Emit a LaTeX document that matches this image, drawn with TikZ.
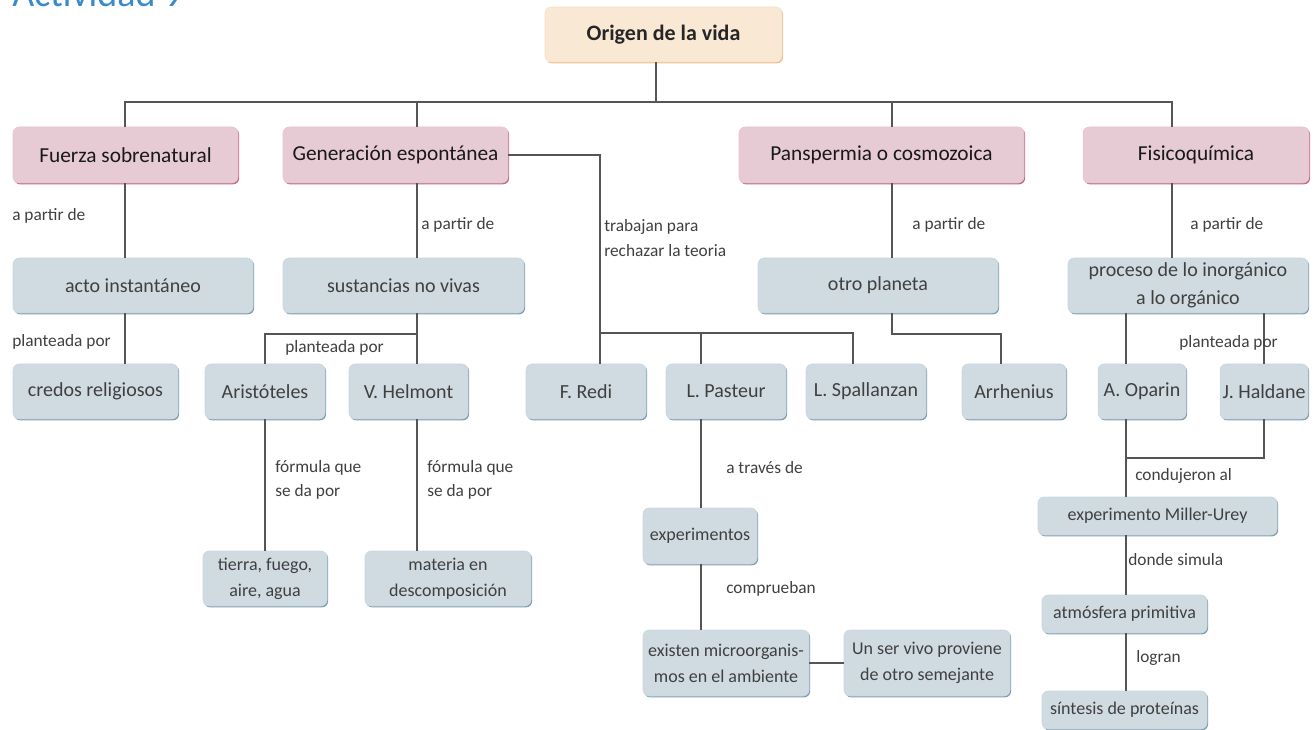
\documentclass[tikz,border=0pt]{standalone}
\usepackage{fontspec}
\setmainfont{Carlito}
\usetikzlibrary{shadows}

\definecolor{pinkfill}{HTML}{E6CAD4}
\definecolor{pinkedge}{HTML}{C0668A}
\definecolor{bluefill}{HTML}{CFDAE1}
\definecolor{blueedge}{HTML}{7C9EAE}
\definecolor{peachfill}{HTML}{F9E8D3}
\definecolor{peachedge}{HTML}{EDC08E}
\definecolor{linegray}{HTML}{555555}
\definecolor{titleblue}{HTML}{3A8AC9}

\begin{document}
\begin{tikzpicture}[x=0.75pt, y=-0.75pt,
  sz/.style 2 args={minimum width=#1*0.75pt, minimum height=#2*0.75pt},
  box/.style={rounded corners=4.5pt, inner sep=1pt, align=center},
  topbox/.style={box, fill=peachfill, draw=peachedge!50,
    drop shadow={shadow xshift=0.8pt, shadow yshift=-1pt, fill=peachedge, opacity=1},
    font=\fontsize{16.5}{19}\selectfont\bfseries, text=black!85},
  pinkbox/.style={box, fill=pinkfill, draw=pinkedge!40,
    drop shadow={shadow xshift=0.8pt, shadow yshift=-1pt, fill=pinkedge, opacity=1},
    font=\fontsize{16}{19}\selectfont, text=black!90},
  bluebox/.style={box, fill=bluefill, draw=blueedge!40,
    drop shadow={shadow xshift=0.8pt, shadow yshift=-1pt, fill=blueedge, opacity=1},
    font=\fontsize{15}{21}\selectfont, text=black!75},
  smallbox/.style={bluebox, font=\fontsize{13.5}{19.5}\selectfont},
  lbl/.style={anchor=west, inner sep=0pt, align=left,
    font=\fontsize{13}{18.5}\selectfont, text=black!75},
  conn/.style={draw=linegray, line width=1.5pt}
]

% Frame of the page
\useasboundingbox (0,0) rectangle (1316,730);

% Heading, cut at the top
\node[anchor=base west, inner sep=0pt, text=titleblue,
  font=\fontsize{28.5}{30}\selectfont] (act) at (12,7) {Actividad 9};

% Root
\node[topbox, sz={237}{55}] (origen) at (663.5,34.5) {Origen de la vida};

% Theories
\node[pinkbox, sz={225}{56}] (fuerza) at (125.5,155) {Fuerza sobrenatural};
\node[pinkbox, sz={225}{56}] (gen) at (395.5,155) {Generación espontánea};
\node[pinkbox, sz={285}{56}] (pans) at (881.5,155) {Panspermia o cosmozoica};
\node[pinkbox, sz={226}{56}] (fisico) at (1196,155) {Fisicoquímica};

% Second row
\node[bluebox, sz={240}{55}] (acto) at (133,285.5) {acto instantáneo};
\node[bluebox, sz={241}{55}] (sust) at (403.5,285.5) {sustancias no vivas};
\node[bluebox, sz={240}{55}] (planeta) at (878,285.5) {otro planeta};
\node[bluebox, sz={240}{55}] (proceso) at (1188,285.5) {proceso de lo inorgánico\\a lo orgánico};

% Third row
\node[bluebox, sz={165}{55}] (credos) at (95.5,391.5) {credos religiosos};
\node[bluebox, sz={120}{55}] (arist) at (265,391.5) {Aristóteles};
\node[bluebox, sz={119}{55}] (helm) at (408.5,391.5) {V. Helmont};
\node[bluebox, sz={120}{55}] (redi) at (586,391.5) {F. Redi};
\node[bluebox, sz={120}{55}] (pasteur) at (726,391.5) {L. Pasteur};
\node[bluebox, sz={120}{55}] (spall) at (866,391.5) {L. Spallanzan};
\node[bluebox, sz={104}{55}] (arrh) at (1014,391.5) {Arrhenius};
\node[bluebox, sz={88}{55}] (oparin) at (1142,391.5) {A. Oparin};
\node[bluebox, sz={88}{55}] (haldane) at (1264,391.5) {J. Haldane};

% Lower boxes
\node[smallbox, sz={124}{55}] (tierra) at (265,578.5) {tierra, fuego,\\aire, agua};
\node[smallbox, sz={166}{55}] (materia) at (448,578.5) {materia en\\descomposición};
\node[smallbox, sz={114}{56}] (exper) at (700,536) {experimentos};
\node[smallbox, sz={166}{66}] (existen) at (726,663) {existen microorganis-\\mos en el ambiente};
\node[smallbox, sz={166}{66}] (servivo) at (927,663) {Un ser vivo proviene\\de otro semejante};
\node[smallbox, sz={239}{38}] (miller) at (1157.5,516) {experimento Miller-Urey};
\node[smallbox, sz={165}{38}] (atmos) at (1124.5,614) {atmósfera primitiva};
\node[smallbox, sz={165}{38}] (sintesis) at (1124.5,710) {síntesis de proteínas};

% Joints of the connectors
\coordinate (top) at (656,102);
\coordinate (b1) at (125,102);
\coordinate (b2) at (417,102);
\coordinate (b3) at (892,102);
\coordinate (b4) at (1172,102);
\coordinate (j1) at (417,334);
\coordinate (j2) at (600,333);
\coordinate (j3) at (853,333);
\coordinate (pl) at (701,333);
\coordinate (j4) at (1001,334);
\coordinate (ox) at (1126,458);

% Root to theories
\draw[conn] (origen.south -| top) -- (top);
\draw[conn] (b1 |- fuerza.north) -- (b1) -- (b4) -- (b4 |- fisico.north);
\draw[conn] (b2) -- (b2 |- gen.north);
\draw[conn] (b3) -- (b3 |- pans.north);

% Fuerza sobrenatural
\draw[conn] (fuerza.south -| b1) -- (acto.north -| b1);
\draw[conn] (acto.south -| b1) -- (credos.north -| b1);

% Generacion espontanea
\draw[conn] (gen.south -| b2) -- (sust.north -| b2);
\draw[conn] (sust.south -| b2) -- (helm.north -| b2);
\draw[conn] (j1) -| (arist.north);
\draw[conn] (arist.south) -- (tierra.north);
\draw[conn] (helm.south -| b2) -- (materia.north -| b2);
\draw[conn] (gen.east) -| (j2) -- (redi.north -| j2);
\draw[conn] (j2) -- (j3) -- (spall.north -| j3);
\draw[conn] (pl) -- (pasteur.north -| pl);
\draw[conn] (pasteur.south -| pl) -- (exper.north -| pl);
\draw[conn] (exper.south -| pl) -- (existen.north -| pl);
\draw[conn] (existen.east) -- (servivo.west);

% Panspermia
\draw[conn] (pans.south -| b3) -- (planeta.north -| b3);
\draw[conn] (planeta.south -| b3) |- (j4) -- (arrh.north -| j4);

% Fisicoquimica
\draw[conn] (fisico.south -| b4) -- (proceso.north -| b4);
\draw[conn] (proceso.south -| ox) -- (oparin.north -| ox);
\draw[conn] (proceso.south -| haldane) -- (haldane.north);
\draw[conn] (oparin.south -| ox) -- (miller.north -| ox);
\draw[conn] (haldane.south) |- (ox);
\draw[conn] (miller.south -| ox) -- (atmos.north -| ox);
\draw[conn] (atmos.south -| ox) -- (sintesis.north -| ox);

% Link words
\node[lbl] (l1) at (12,216) {a partir de};
\node[lbl] (l2) at (421,225) {a partir de};
\node[lbl] (l3) at (604,238) {trabajan para\\rechazar la teoria};
\node[lbl] (l4) at (912,225) {a partir de};
\node[lbl] (l5) at (1190,225) {a partir de};
\node[lbl] (l6) at (12,342) {planteada por};
\node[lbl] (l7) at (285,348) {planteada por};
\node[lbl] (l8) at (1179,343) {planteada por};
\node[lbl] (l9) at (275,480) {fórmula que\\se da por};
\node[lbl] (l10) at (427,480) {fórmula que\\se da por};
\node[lbl] (l11) at (726,468) {a través de};
\node[lbl] (l12) at (726,589) {comprueban};
\node[lbl] (l13) at (1135,476) {condujeron al};
\node[lbl] (l14) at (1128,560) {donde simula};
\node[lbl] (l15) at (1136,658) {logran};

\end{tikzpicture}
\end{document}
